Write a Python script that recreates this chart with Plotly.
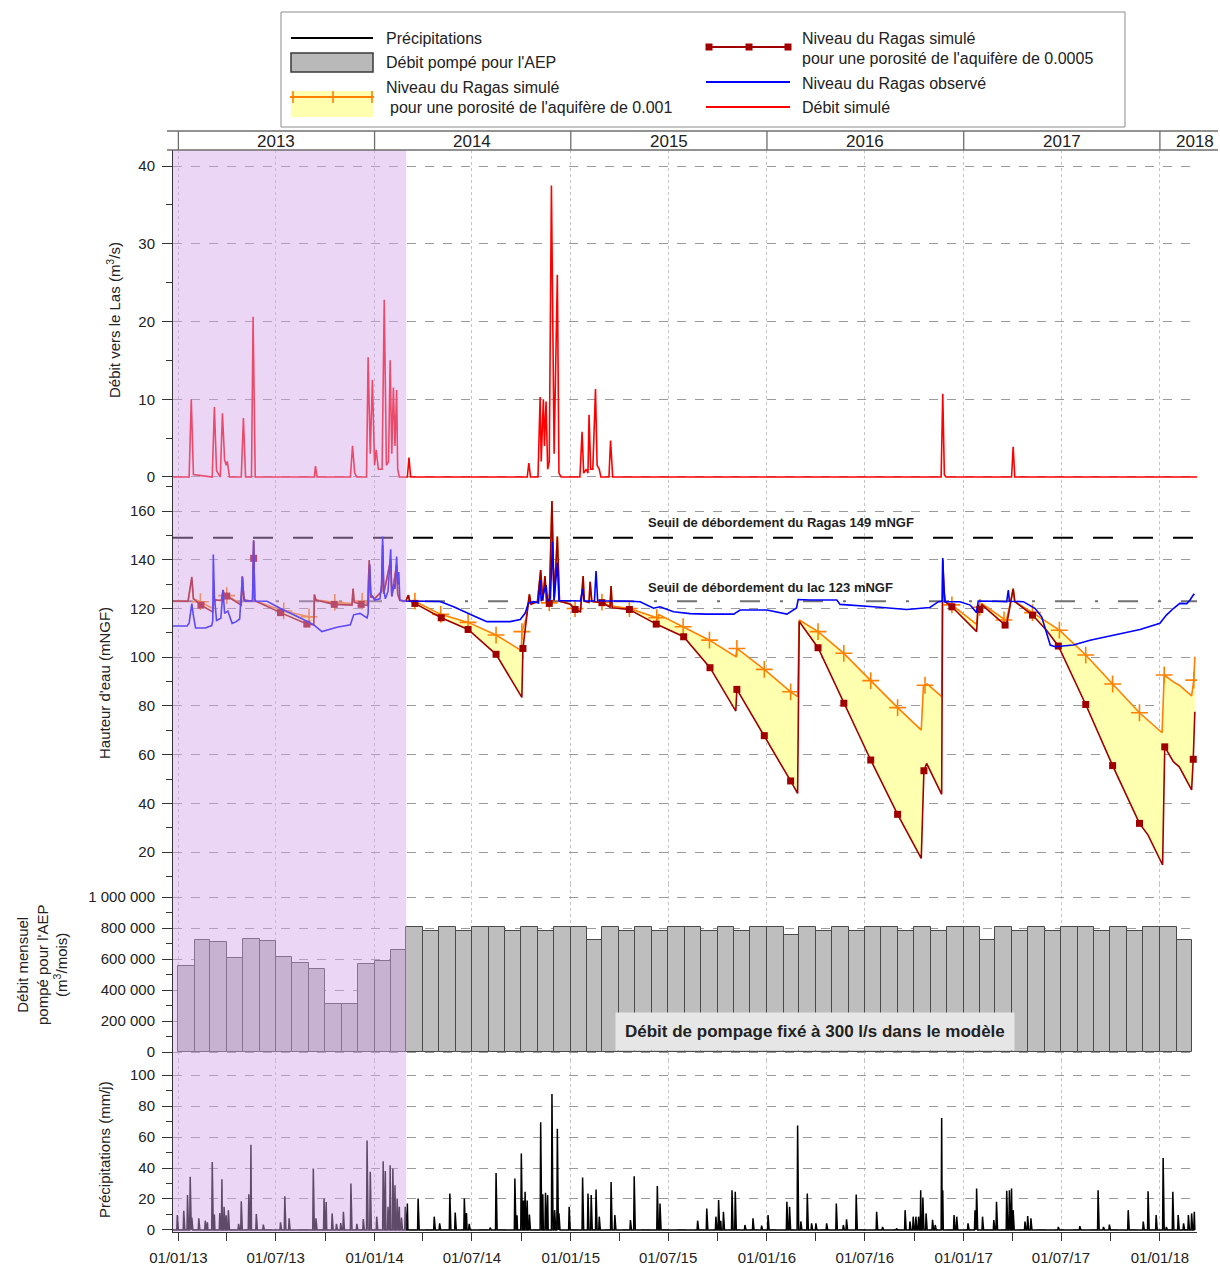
import pandas as pd
import plotly.graph_objects as go
from plotly.subplots import make_subplots

FONT = "Liberation Sans, Arial, sans-serif"
TXT = "#222222"

# ---------------- DATA ----------------
x_range = ["2012-12-22", "2018-03-11"]
year_labels = ["2013", "2014", "2015", "2016", "2017", "2018"]
year_starts = ["2013-01-01", "2014-01-01", "2015-01-01", "2016-01-01", "2017-01-01", "2018-01-01"]
year_label_pos = ["2013-07-02", "2014-07-02", "2015-07-02", "2016-07-01", "2017-07-02", "2018-03-07"]
shade_period = ["2012-12-22", "2014-03-01"]
seuil_ragas = 149
seuil_lac = 123

debit_dates = ["2012-12-22", "2013-01-21", "2013-01-25", "2013-01-29", "2013-03-05", "2013-03-09", "2013-03-13",
               "2013-03-20", "2013-03-24", "2013-03-28", "2013-03-31", "2013-04-02", "2013-04-06", "2013-04-28",
               "2013-05-02", "2013-05-06", "2013-05-17", "2013-05-20", "2013-05-24", "2013-09-11", "2013-09-13",
               "2013-09-16", "2013-11-17", "2013-11-21", "2013-11-25", "2013-11-29", "2013-12-17", "2013-12-20",
               "2013-12-24", "2013-12-28", "2014-01-01", "2014-01-04", "2014-01-08", "2014-01-15", "2014-01-19",
               "2014-01-23", "2014-01-27", "2014-01-30", "2014-02-02", "2014-02-05", "2014-02-08", "2014-02-11",
               "2014-02-13", "2014-02-16", "2014-03-03", "2014-03-06", "2014-03-09", "2014-10-12", "2014-10-15",
               "2014-10-18", "2014-11-01", "2014-11-05", "2014-11-07", "2014-11-11", "2014-11-13", "2014-11-16",
               "2014-11-19", "2014-11-22", "2014-11-26", "2014-12-01", "2014-12-07", "2014-12-10", "2014-12-14",
               "2015-01-18", "2015-01-22", "2015-01-25", "2015-01-30", "2015-02-02", "2015-02-04", "2015-02-07",
               "2015-02-11", "2015-02-16", "2015-02-19", "2015-02-23", "2015-02-26", "2015-03-13", "2015-03-16",
               "2015-03-20", "2016-11-20", "2016-11-23", "2016-11-26", "2016-11-29", "2017-03-31", "2017-04-03",
               "2017-04-06", "2018-03-11"]
debit_m3s = [0, 0, 10.0, 0.3, 0, 9.0, 0.8,
             0, 8.2, 2.2, 1.5, 2.0, 0, 0,
             7.6, 0, 0, 20.6, 0, 0, 1.4,
             0, 0, 4.0, 0.5, 0, 0, 15.4,
             3.0, 12.5, 1.5, 3.5, 1.0, 1.0, 22.8,
             1.5, 2.0, 15.0, 3.0, 11.5, 4.0, 11.2,
             1.0, 0, 0, 2.5, 0, 0, 1.8,
             0, 0, 10.3, 2.0, 10.0, 4.0, 9.7,
             1.0, 2.0, 37.5, 3.0, 26.0, 0.5, 0,
             0, 5.8, 0.5, 1.0, 0.5, 8.0, 1.0,
             1.0, 11.3, 1.5, 1.0, 0, 0, 4.7,
             0, 0, 10.7, 0.3, 0, 0, 3.9,
             0, 0]

obs_dates = ["2012-12-22", "2013-01-17", "2013-01-21", "2013-01-26", "2013-01-29", "2013-02-02", "2013-02-20",
             "2013-03-04", "2013-03-06", "2013-03-07", "2013-03-09", "2013-03-13", "2013-03-21", "2013-03-25",
             "2013-03-28", "2013-04-03", "2013-04-11", "2013-04-18", "2013-04-25", "2013-04-30", "2013-05-03",
             "2013-05-06", "2013-05-19", "2013-05-21", "2013-05-23", "2013-05-24", "2013-06-15", "2013-07-10",
             "2013-08-16", "2013-09-10", "2013-09-25", "2013-10-11", "2013-10-23", "2013-11-17", "2013-11-23",
             "2013-12-05", "2013-12-18", "2013-12-20", "2013-12-23", "2013-12-25", "2013-12-28", "2014-01-01",
             "2014-01-11", "2014-01-14", "2014-01-16", "2014-01-18", "2014-01-21", "2014-01-26", "2014-01-31",
             "2014-02-02", "2014-02-06", "2014-02-08", "2014-02-11", "2014-02-13", "2014-02-15", "2014-02-17",
             "2014-02-26", "2014-03-27", "2014-05-03", "2014-05-28", "2014-06-22", "2014-07-09", "2014-07-29",
             "2014-09-10", "2014-09-29", "2014-10-08", "2014-10-14", "2014-10-24", "2014-11-02", "2014-11-05",
             "2014-11-07", "2014-11-16", "2014-11-19", "2014-11-24", "2014-11-28", "2014-12-01", "2014-12-07",
             "2014-12-10", "2015-01-19", "2015-01-23", "2015-01-26", "2015-02-14", "2015-02-17", "2015-02-20",
             "2015-04-21", "2015-05-10", "2015-06-04", "2015-06-16", "2015-07-11", "2015-08-11", "2015-09-11",
             "2015-10-31", "2015-11-12", "2016-01-01", "2016-02-07", "2016-02-25", "2016-02-28", "2016-03-21",
             "2016-05-10", "2016-05-16", "2016-07-17", "2016-09-17", "2016-10-30", "2016-11-15", "2016-11-22",
             "2016-11-23", "2016-11-25", "2016-11-27", "2016-12-25", "2017-01-13", "2017-01-25", "2017-01-28",
             "2017-03-03", "2017-03-22", "2017-03-25", "2017-03-27", "2017-04-22", "2017-05-14", "2017-05-26",
             "2017-06-04", "2017-06-11", "2017-06-20", "2017-07-24", "2017-08-24", "2017-10-06", "2017-11-25",
             "2018-01-01", "2018-01-13", "2018-01-26", "2018-02-07", "2018-02-20", "2018-02-26", "2018-03-04",
             "2018-03-06"]
obs_mngf = [112.8, 112.8, 114, 122, 117, 112, 112,
            113, 115, 142.2, 125, 115.1, 116, 127.6,
            118, 119, 113.9, 114.5, 115.7, 133, 124,
            123, 123.2, 147.7, 124, 123.1, 123, 120,
            116.1, 113.3, 110.5, 111.5, 112.3, 113.3, 117.4,
            118, 116.1, 118, 138, 126, 125, 123.5,
            124, 130, 149.5, 128, 124, 127, 144.3,
            125, 130, 128, 141.3, 130, 135, 123.5,
            123.1, 123.1, 122.9, 120.7, 118, 116.5, 114.6,
            114.6, 115.5, 118, 122.2, 122.8, 122.3, 131.7,
            123, 129.6, 123, 124, 147.4, 123.5, 138.8,
            123.3, 123.1, 128, 123.1, 123.1, 135.4, 123.2,
            123, 122.8, 120.1, 120.7, 118.7, 117.9, 117.7,
            117.7, 119.4, 119.4, 117.7, 120.2, 123.7, 123.5,
            123.5, 121.7, 120.7, 119.6, 120.4, 122.8, 123,
            140.7, 130, 122.8, 122.8, 121.4, 118.3, 123.1,
            123, 122.8, 127.6, 123, 122.8, 120, 116.6,
            110.5, 105, 104.3, 105, 107, 109.1, 111.4,
            113.9, 117.3, 120, 122.1, 122, 123.5, 125.5,
            126]

sim5_dates = ["2012-12-22", "2013-01-19", "2013-01-26", "2013-01-29", "2013-02-12", "2013-03-05", "2013-03-06",
              "2013-03-08", "2013-03-22", "2013-03-25", "2013-03-28", "2013-04-01", "2013-04-28", "2013-04-30",
              "2013-05-03", "2013-05-19", "2013-05-21", "2013-05-23", "2013-05-24", "2013-07-10", "2013-08-28",
              "2013-09-10", "2013-09-11", "2013-09-14", "2013-10-18", "2013-11-20", "2013-11-22", "2013-11-24",
              "2013-12-07", "2013-12-19", "2013-12-22", "2013-12-25", "2013-12-28", "2014-01-01", "2014-01-14",
              "2014-01-16", "2014-01-18", "2014-01-31", "2014-02-02", "2014-02-11", "2014-02-13", "2014-02-17",
              "2014-02-28", "2014-03-05", "2014-03-07", "2014-03-17", "2014-05-05", "2014-06-24", "2014-08-15",
              "2014-10-02", "2014-10-04", "2014-10-10", "2014-10-14", "2014-10-16", "2014-10-19", "2014-10-31",
              "2014-11-06", "2014-11-10", "2014-11-14", "2014-11-17", "2014-11-22", "2014-11-27", "2014-12-01",
              "2014-12-07", "2014-12-11", "2014-12-31", "2015-01-09", "2015-01-19", "2015-01-24", "2015-01-26",
              "2015-02-04", "2015-02-06", "2015-02-09", "2015-02-28", "2015-03-15", "2015-03-17", "2015-03-19",
              "2015-04-20", "2015-06-09", "2015-07-30", "2015-09-17", "2015-11-04", "2015-11-06", "2015-12-27",
              "2016-02-14", "2016-02-27", "2016-03-01", "2016-04-05", "2016-05-23", "2016-07-12", "2016-08-31",
              "2016-10-14", "2016-10-19", "2016-10-24", "2016-11-21", "2016-11-23", "2016-11-25", "2016-11-27",
              "2016-12-10", "2017-01-25", "2017-01-28", "2017-01-31", "2017-02-04", "2017-03-19", "2017-03-22",
              "2017-03-28", "2017-04-03", "2017-04-06", "2017-05-09", "2017-06-04", "2017-06-26", "2017-08-16",
              "2017-10-05", "2017-11-24", "2017-12-10", "2018-01-06", "2018-01-10", "2018-01-26", "2018-02-06",
              "2018-03-01", "2018-03-04", "2018-03-07"]
sim5_mngf = [123.1, 123, 133, 124, 121.4, 119, 118.6,
             123.5, 123.3, 127.6, 125, 125.1, 121.4, 133.3,
             123.5, 123, 148.1, 124, 123.1, 118.3, 113.6,
             113.3, 125.8, 123.5, 121.7, 121.4, 128.2, 122.5,
             121.7, 121.2, 139.9, 124.5, 125, 124, 127,
             146, 126, 140, 125, 138, 126, 123.3,
             123.1, 125.5, 123.2, 122.1, 116.2, 111.4, 101.2,
             83.5, 103.6, 116, 123.5, 125.8, 121.8, 122.8,
             135.8, 123.2, 133.3, 122.8, 122.1, 164.1, 123.2,
             149.5, 123, 121.8, 119.6, 118.6, 133.3, 123,
             122.5, 131, 123, 122.4, 120.5, 129.2, 120.3,
             119.6, 113.6, 108.4, 95.7, 77.9, 86.8, 67.8,
             49.2, 44.1, 114.7, 103.9, 81.1, 57.8, 35.5,
             17.4, 53.4, 56.4, 43.7, 140, 128, 122.8,
             120.7, 110.5, 121.4, 119.6, 121.5, 113.2, 113.5,
             121, 128.2, 122.8, 117.3, 111.1, 104.6, 80.6,
             55.5, 31.8, 27, 14.7, 63.2, 57.1, 55,
             45.5, 58.1, 77.6]
sim5_marker_dates = ["2013-02-12", "2013-04-01", "2013-05-21", "2013-07-10", "2013-08-28", "2013-10-18",
                     "2013-12-07", "2014-03-17", "2014-05-05", "2014-06-24", "2014-08-15", "2014-10-04",
                     "2014-11-22", "2015-01-09", "2015-02-28", "2015-04-20", "2015-06-09", "2015-07-30",
                     "2015-09-17", "2015-11-06", "2015-12-27", "2016-02-14", "2016-04-05", "2016-05-23",
                     "2016-07-12", "2016-08-31", "2016-10-19", "2016-12-10", "2017-01-31", "2017-03-19",
                     "2017-05-09", "2017-06-26", "2017-08-16", "2017-10-05", "2017-11-24", "2018-01-10",
                     "2018-03-04"]
sim5_marker_mngf = [121.4, 125.1, 140.6, 118.3, 113.6, 121.7,
                    121.7, 122.1, 116.2, 111.4, 101.2, 103.6,
                    122.1, 119.6, 122.4, 119.6, 113.6, 108.4,
                    95.7, 86.8, 67.8, 49.2, 103.9, 81.1,
                    57.8, 35.5, 53.4, 120.7, 119.6, 113.2,
                    117.3, 104.6, 80.6, 55.5, 31.8, 63.2,
                    58.1]

sim1_dates = ["2012-12-22", "2013-01-19", "2013-01-26", "2013-01-29", "2013-02-11", "2013-03-06", "2013-03-08",
              "2013-03-22", "2013-03-25", "2013-03-28", "2013-04-01", "2013-04-28", "2013-04-30", "2013-05-03",
              "2013-05-19", "2013-05-21", "2013-05-23", "2013-05-24", "2013-07-16", "2013-09-01", "2013-09-10",
              "2013-09-11", "2013-09-14", "2013-10-19", "2013-11-20", "2013-11-22", "2013-11-24", "2013-12-09",
              "2013-12-19", "2013-12-22", "2013-12-25", "2013-12-28", "2014-01-01", "2014-01-14", "2014-01-16",
              "2014-01-18", "2014-01-31", "2014-02-02", "2014-02-11", "2014-02-13", "2014-02-17", "2014-02-28",
              "2014-03-05", "2014-03-07", "2014-03-17", "2014-05-04", "2014-06-24", "2014-08-15", "2014-10-01",
              "2014-10-02", "2014-10-10", "2014-10-14", "2014-10-16", "2014-10-19", "2014-10-31", "2014-11-06",
              "2014-11-10", "2014-11-14", "2014-11-17", "2014-11-22", "2014-11-27", "2014-12-01", "2014-12-07",
              "2014-12-11", "2014-12-31", "2015-01-09", "2015-01-19", "2015-01-24", "2015-01-26", "2015-02-04",
              "2015-02-06", "2015-02-09", "2015-02-28", "2015-03-15", "2015-03-17", "2015-03-19", "2015-04-20",
              "2015-06-10", "2015-06-12", "2015-06-14", "2015-07-29", "2015-09-16", "2015-11-04", "2015-11-06",
              "2015-12-27", "2016-02-14", "2016-02-27", "2016-03-01", "2016-04-05", "2016-05-23", "2016-07-12",
              "2016-08-31", "2016-10-14", "2016-10-18", "2016-10-21", "2016-10-25", "2016-11-21", "2016-11-23",
              "2016-11-25", "2016-11-27", "2016-12-10", "2017-01-25", "2017-01-28", "2017-01-31", "2017-02-04",
              "2017-03-17", "2017-03-21", "2017-03-28", "2017-04-03", "2017-04-06", "2017-05-09", "2017-06-28",
              "2017-08-16", "2017-10-05", "2017-11-24", "2018-01-05", "2018-01-09", "2018-01-26", "2018-02-06",
              "2018-03-01", "2018-03-05", "2018-03-07"]
sim1_mngf = [123.1, 123, 132, 124, 122.8, 120, 123.5,
             123.3, 127, 125, 125.3, 122, 132.5, 123.5,
             123, 147, 124, 123.1, 119, 116.6, 116.5,
             125.5, 123.5, 122.5, 122, 128, 123, 123,
             122, 139, 124.5, 125, 124, 127, 146,
             126, 140, 125, 138, 126, 123.3, 123.1,
             125.5, 123.2, 123, 117.6, 114.3, 109.1, 102.7,
             110.5, 116, 123.5, 125.8, 121.8, 122.8, 135.8,
             123.2, 133.3, 122.8, 122.3, 164.1, 123.2, 149.5,
             123, 122, 120, 119, 133.3, 123, 122.7,
             131, 123, 122.6, 121, 129.2, 121, 120,
             116.2, 115.5, 117.5, 112.5, 107, 100.2, 103.6,
             95, 85.8, 83.8, 115.3, 110.5, 101.6, 90.4,
             79.3, 70.1, 87.9, 88.5, 89, 83.8, 139,
             128, 122.8, 121.5, 113.5, 121.8, 120.5, 122,
             115.3, 115, 121.5, 128, 122.8, 118.3, 111.1,
             100.9, 89, 77.2, 69, 92.7, 89.9, 88.5,
             84.1, 90.6, 100.2]
sim1_marker_dates = ["2013-02-11", "2013-04-01", "2013-07-16", "2013-09-01", "2013-10-19", "2013-12-09",
                     "2014-03-17", "2014-05-04", "2014-06-24", "2014-08-15", "2014-10-02", "2014-11-22",
                     "2015-01-09", "2015-02-28", "2015-04-20", "2015-06-10", "2015-07-29", "2015-09-16",
                     "2015-11-06", "2015-12-27", "2016-02-14", "2016-04-05", "2016-05-23", "2016-07-12",
                     "2016-08-31", "2016-10-21", "2016-12-10", "2017-01-31", "2017-03-17", "2017-05-09",
                     "2017-06-28", "2017-08-16", "2017-10-05", "2017-11-24", "2018-01-09", "2018-03-05"]

aep_months = ["2013-01", "2013-02", "2013-03", "2013-04", "2013-05", "2013-06", "2013-07", "2013-08",
              "2013-09", "2013-10", "2013-11", "2013-12",
              "2014-01", "2014-02", "2014-03", "2014-04", "2014-05", "2014-06", "2014-07", "2014-08",
              "2014-09", "2014-10", "2014-11", "2014-12",
              "2015-01", "2015-02", "2015-03", "2015-04", "2015-05", "2015-06", "2015-07", "2015-08",
              "2015-09", "2015-10", "2015-11", "2015-12",
              "2016-01", "2016-02", "2016-03", "2016-04", "2016-05", "2016-06", "2016-07", "2016-08",
              "2016-09", "2016-10", "2016-11", "2016-12",
              "2017-01", "2017-02", "2017-03", "2017-04", "2017-05", "2017-06", "2017-07", "2017-08",
              "2017-09", "2017-10", "2017-11", "2017-12",
              "2018-01", "2018-02"]
aep_m3 = [558000, 721000, 708000, 609000, 727000, 717000, 616000, 575000, 534000, 311000, 311000, 569000,
          590000, 657000, 803520, 777600, 803520, 777600, 803520, 803520, 777600, 803520, 777600, 803520,
          803520, 725760, 803520, 777600, 803520, 777600, 803520, 803520, 777600, 803520, 777600, 803520,
          803520, 751680, 803520, 777600, 803520, 777600, 803520, 803520, 777600, 803520, 777600, 803520,
          803520, 725760, 803520, 777600, 803520, 777600, 803520, 803520, 777600, 803520, 777600, 803520,
          803520, 725760]
aep_ticks = [0, 200000, 400000, 600000, 800000, 1000000]
aep_ticktext = ["0", "200 000", "400 000", "600 000", "800 000", "1 000 000"]

precip_period = ["2012-12-22", "2018-03-07"]
rain_dates = ["2012-12-30", "2013-01-11", "2013-01-18", "2013-01-23", "2013-01-26", "2013-02-08", "2013-02-20",
              "2013-02-24", "2013-03-05", "2013-03-09", "2013-03-19", "2013-03-23", "2013-03-27", "2013-03-31",
              "2013-04-04", "2013-04-23", "2013-04-28", "2013-05-12", "2013-05-16", "2013-05-26", "2013-06-08",
              "2013-07-10", "2013-07-18", "2013-07-26", "2013-09-09", "2013-09-14", "2013-09-29", "2013-10-03",
              "2013-10-14", "2013-10-22", "2013-10-30", "2013-11-04", "2013-11-18", "2013-11-29", "2013-12-11",
              "2013-12-18", "2013-12-24", "2014-01-05", "2014-01-17", "2014-01-21", "2014-01-26", "2014-01-30",
              "2014-02-04", "2014-02-08", "2014-02-12", "2014-02-16", "2014-02-20", "2014-02-27", "2014-03-03",
              "2014-03-23", "2014-04-22", "2014-05-02", "2014-05-21", "2014-05-31", "2014-06-17", "2014-06-21",
              "2014-06-26", "2014-08-04", "2014-08-15", "2014-09-19", "2014-09-23", "2014-10-01", "2014-10-05",
              "2014-10-08", "2014-10-12", "2014-10-16", "2014-11-06", "2014-11-10", "2014-11-15", "2014-11-19",
              "2014-11-27", "2014-12-02", "2014-12-07", "2014-12-10", "2014-12-29", "2015-01-23", "2015-02-02",
              "2015-02-08", "2015-02-17", "2015-02-23", "2015-03-17", "2015-03-24", "2015-04-22", "2015-04-29",
              "2015-06-11", "2015-06-16", "2015-08-25", "2015-09-11", "2015-09-28", "2015-10-03", "2015-10-07",
              "2015-10-12", "2015-10-28", "2015-11-03", "2015-11-21", "2015-12-06", "2015-12-22", "2016-01-03",
              "2016-02-07", "2016-02-12", "2016-02-27", "2016-03-04", "2016-03-16", "2016-03-24", "2016-04-01",
              "2016-04-21", "2016-05-09", "2016-05-22", "2016-05-28", "2016-06-15", "2016-07-23", "2016-08-03",
              "2016-08-29", "2016-09-14", "2016-09-23", "2016-09-29", "2016-10-04", "2016-10-09", "2016-10-13",
              "2016-10-17", "2016-10-23", "2016-11-04", "2016-11-09", "2016-11-21", "2016-11-23", "2016-12-14",
              "2016-12-19", "2017-01-09", "2017-01-22", "2017-01-25", "2017-02-05", "2017-02-26", "2017-03-03",
              "2017-03-22", "2017-03-27", "2017-03-31", "2017-04-03", "2017-04-25", "2017-04-30", "2017-05-06",
              "2017-06-26", "2017-08-05", "2017-09-08", "2017-09-18", "2017-09-29", "2017-11-03", "2017-12-01",
              "2017-12-10", "2017-12-25", "2018-01-07", "2018-01-13", "2018-01-25", "2018-02-04", "2018-02-14",
              "2018-02-23", "2018-03-01", "2018-03-06"]
rain_mm = [9.6, 12.4, 22.5, 34.3, 8, 7.5, 6,
           5, 43.9, 10, 11, 32.8, 15, 9.5,
           12.8, 4, 18.6, 23, 55, 10.3, 3.5,
           5, 21.8, 7.5, 39.6, 7.5, 20.3, 18,
           10.7, 4, 4.5, 11.8, 30, 4, 7,
           57.8, 37.5, 8.6, 44.3, 38, 15, 41.8,
           39.6, 28.9, 20, 15, 8, 15, 17,
           20.3, 8.6, 4.3, 23.6, 11.3, 20.3, 11,
           4, 1.5, 36.8, 33.2, 9.5, 49.3, 19,
           24.6, 19, 10, 69.6, 23, 24, 22.5,
           87.8, 12.8, 65.3, 10.7, 15, 33.8, 23.6,
           22.5, 26.1, 8.6, 31, 9.6, 6.4, 34.7,
           28.3, 17, 6, 13.9, 8.6, 19.3, 6,
           11.8, 25.7, 24.6, 3.2, 7.5, 2.8, 9.6,
           18.2, 15, 67.5, 5.5, 23.6, 4.3, 4.3,
           4.3, 17.1, 3.2, 6.9, 22.9, 11.8, 2,
           1, 12.8, 5.5, 8.6, 8.6, 8.6, 25.7,
           21, 10.7, 6.5, 3.2, 72.2, 25.7, 9.6,
           8.6, 4.3, 12.8, 26.8, 8.6, 6.4, 18.2,
           25.3, 25.7, 26.8, 12.8, 5.4, 9, 7.5,
           2, 2.5, 25.7, 2, 3.5, 12.8, 5.4,
           25, 9.6, 46.5, 2, 24.6, 9.6, 4.3,
           9.6, 10.7, 11.8]

# ---------------- FIGURE ----------------
RED = "#FF0000"
BLUE = "#0000FF"
DARKRED = "#A00000"
ORANGE = "#FF8000"
YELLOW = "#FFFFB0"

fig = make_subplots(rows=4, cols=1, shared_xaxes=True, vertical_spacing=0)

fig.add_trace(go.Scatter(x=debit_dates, y=debit_m3s, mode="lines", line=dict(color=RED, width=1.6),
                         showlegend=False), row=1, col=1)

fig.add_trace(go.Scatter(x=sim5_dates, y=sim5_mngf, mode="lines", line=dict(width=0, color=DARKRED),
                         showlegend=False, hoverinfo="skip"), row=2, col=1)
fig.add_trace(go.Scatter(x=sim1_dates, y=sim1_mngf, mode="lines", line=dict(width=0, color=ORANGE),
                         fill="tonexty", fillcolor=YELLOW, showlegend=False, hoverinfo="skip"), row=2, col=1)
sim1_lookup = dict(zip(sim1_dates, sim1_mngf))
fig.add_trace(go.Scatter(x=sim1_dates, y=sim1_mngf, mode="lines", line=dict(color=ORANGE, width=1.6),
                         showlegend=False), row=2, col=1)
fig.add_trace(go.Scatter(x=sim1_marker_dates, y=[sim1_lookup[d] for d in sim1_marker_dates], mode="markers",
                         marker=dict(symbol="cross-thin", size=12, line=dict(color=ORANGE, width=1.6)),
                         showlegend=False), row=2, col=1)
fig.add_trace(go.Scatter(x=sim5_dates, y=sim5_mngf, mode="lines", line=dict(color=DARKRED, width=1.6),
                         showlegend=False), row=2, col=1)
fig.add_trace(go.Scatter(x=sim5_marker_dates, y=sim5_marker_mngf, mode="markers",
                         marker=dict(symbol="square", size=7, color=DARKRED), showlegend=False), row=2, col=1)
fig.add_trace(go.Scatter(x=obs_dates, y=obs_mngf, mode="lines", line=dict(color=BLUE, width=1.6),
                         showlegend=False), row=2, col=1)

m_start = pd.to_datetime(aep_months, format="%Y-%m")
m_next = m_start + pd.offsets.MonthBegin(1)
widths = [(b - a).total_seconds() * 1000 for a, b in zip(m_start, m_next)]
fig.add_trace(go.Bar(x=m_start, y=aep_m3, width=widths, offset=0,
                     marker=dict(color="#BEBEBE", line=dict(color="#4A4A4A", width=1)),
                     showlegend=False), row=3, col=1)

days = pd.date_range(precip_period[0], precip_period[1], freq="D")
rain = pd.Series(0.0, index=days)
rain.loc[pd.to_datetime(rain_dates)] = rain_mm
fig.add_trace(go.Scatter(x=rain.index, y=rain.values, mode="lines", line=dict(color="#000000", width=1.5),
                         showlegend=False), row=4, col=1)

# ---------------- AXES ----------------
W, H = 1220, 1268
ML, MR, MT, MB = 173, 23, 150, 36
PW, PH = W - ML - MR, H - MT - MB


def px(x):
    return (x - ML) / PW


def py(y):
    return (H - MB - y) / PH


doms = {1: [py(485), 1.0], 2: [py(884), py(485)], 3: [py(1060), py(884)], 4: [0.0, py(1060)]}

tickfont = dict(family=FONT, size=15, color=TXT)
ycommon = dict(showline=True, linecolor="#333333", linewidth=1, ticks="outside", ticklen=10, tickwidth=1,
               tickcolor="#333333", tickfont=tickfont, showgrid=True, gridcolor="#9A9A9A", griddash="dash",
               gridwidth=1, zeroline=False, ticklabelstandoff=4, automargin=False)

fig.update_yaxes(row=1, col=1, domain=doms[1], range=[-1.03, 42.06], tickmode="linear", tick0=0, dtick=10,
                 minor=dict(dtick=5, tick0=0, ticks="outside", ticklen=6, tickcolor="#333333", showgrid=False),
                 **ycommon)
fig.update_yaxes(row=2, col=1, domain=doms[2], range=[6.9, 170.7], tickmode="linear", tick0=0, dtick=20,
                 minor=dict(dtick=10, tick0=0, ticks="outside", ticklen=6, tickcolor="#333333", showgrid=False),
                 **ycommon)
fig.update_yaxes(row=3, col=1, domain=doms[3], range=[-51600, 1083900], tickmode="array", tickvals=aep_ticks,
                 ticktext=aep_ticktext,
                 minor=dict(dtick=100000, tick0=0, ticks="outside", ticklen=6, tickcolor="#333333",
                            showgrid=False), **ycommon)
fig.update_yaxes(row=4, col=1, domain=doms[4], range=[-1.3, 109.7], tickmode="linear", tick0=0, dtick=20,
                 minor=dict(dtick=10, tick0=0, ticks="outside", ticklen=6, tickcolor="#333333", showgrid=False),
                 **ycommon)

xcommon = dict(range=x_range, type="date", tick0="2013-01-01", dtick="M6", showgrid=True, gridcolor="#C4C4C4",
               griddash="dot", gridwidth=1, zeroline=False, automargin=False)
for r in (1, 2, 3):
    fig.update_xaxes(row=r, col=1, showticklabels=False, ticks="", showline=False, **xcommon)
fig.update_xaxes(row=4, col=1, showticklabels=True, ticks="outside", ticklen=8, tickcolor="#333333",
                 tickformat="%d/%m/%y", tickfont=tickfont, showline=True, linecolor="#333333", linewidth=1,
                 ticklabelstandoff=4,
                 minor=dict(dtick="M3", tick0="2013-01-01", ticks="outside", ticklen=8, tickcolor="#333333",
                            showgrid=False), **xcommon)

# ---------------- SHAPES / ANNOTATIONS ----------------
shapes = []
annotations = []

shapes.append(dict(type="line", xref="x2", yref="y2", x0=x_range[0], x1=x_range[1], y0=seuil_ragas,
                   y1=seuil_ragas, line=dict(color="#000000", width=2, dash="20px,20px"), layer="between"))
shapes.append(dict(type="line", xref="x2", yref="y2", x0=x_range[0], x1=x_range[1], y0=seuil_lac,
                   y1=seuil_lac, line=dict(color="#707070", width=2, dash="20px,20px,3px,20px"), layer="between"))
annotations.append(dict(xref="paper", yref="paper", x=px(646), y=py(522), xanchor="left", yanchor="middle",
                        text="<b>Seuil de débordement du Ragas %d mNGF</b>" % seuil_ragas, showarrow=False,
                        font=dict(family=FONT, size=13, color=TXT)))
annotations.append(dict(xref="paper", yref="paper", x=px(646), y=py(587), xanchor="left", yanchor="middle",
                        text="<b>Seuil de débordement du lac %d mNGF</b>" % seuil_lac, showarrow=False,
                        font=dict(family=FONT, size=13, color=TXT)))

annotations.append(dict(xref="paper", yref="paper", x=px(815), y=py(1031), xanchor="center", yanchor="middle",
                        text="<b>Débit de pompage fixé à 300 l/s dans le modèle</b>", showarrow=False,
                        bgcolor="#E6E6E6", borderpad=9, font=dict(family=FONT, size=17, color=TXT)))

shapes.append(dict(type="rect", xref="x", yref="paper", x0=shade_period[0], x1=shade_period[1], y0=0, y1=1,
                   fillcolor="rgb(210,165,235)", opacity=0.45, line=dict(width=0), layer="above"))

band_col = "#6E6E6E"
shapes.append(dict(type="line", xref="paper", yref="paper", x0=px(167), x1=px(1218), y0=py(131), y1=py(131),
                   line=dict(color=band_col, width=1.3)))
shapes.append(dict(type="line", xref="paper", yref="paper", x0=px(167), x1=px(1218), y0=1.0, y1=1.0,
                   line=dict(color=band_col, width=1.3)))
for ys in year_starts:
    shapes.append(dict(type="line", xref="x", yref="paper", x0=ys, x1=ys, y0=1.0, y1=py(131),
                       line=dict(color=band_col, width=1.3)))
for lab, pos in zip(year_labels, year_label_pos):
    annotations.append(dict(xref="x", yref="paper", x=pos, y=py(141), xanchor="center", yanchor="middle",
                            text=lab, showarrow=False, font=dict(family=FONT, size=17, color=TXT)))

ttl = dict(family=FONT, size=15, color=TXT)
annotations.append(dict(xref="paper", yref="paper", x=px(113), y=py(320), textangle=-90, showarrow=False,
                        xanchor="center", yanchor="middle", text="Débit vers le Las (m<sup>3</sup>/s)", font=ttl))
annotations.append(dict(xref="paper", yref="paper", x=px(104), y=py(683), textangle=-90, showarrow=False,
                        xanchor="center", yanchor="middle", text="Hauteur d'eau (mNGF)", font=ttl))
annotations.append(dict(xref="paper", yref="paper", x=px(42), y=py(965), textangle=-90, showarrow=False,
                        xanchor="center", yanchor="middle",
                        text="Débit mensuel<br>pompé pour l'AEP<br>(m<sup>3</sup>/mois)", font=ttl))
annotations.append(dict(xref="paper", yref="paper", x=px(104), y=py(1150), textangle=-90, showarrow=False,
                        xanchor="center", yanchor="middle", text="Précipitations (mm/j)", font=ttl))

shapes.append(dict(type="rect", xref="paper", yref="paper", x0=px(281), x1=px(1125), y0=py(127), y1=py(12),
                   fillcolor="#FFFFFF", line=dict(color="#8C8C8C", width=1)))
shapes.append(dict(type="line", xref="paper", yref="paper", x0=px(291), x1=px(373), y0=py(38), y1=py(38),
                   line=dict(color="#000000", width=2)))
shapes.append(dict(type="rect", xref="paper", yref="paper", x0=px(291), x1=px(373), y0=py(72), y1=py(53),
                   fillcolor="#B9B9B9", line=dict(color="#3A3A3A", width=1.5)))
shapes.append(dict(type="rect", xref="paper", yref="paper", x0=px(291), x1=px(373), y0=py(117), y1=py(91),
                   fillcolor=YELLOW, line=dict(width=0)))
shapes.append(dict(type="line", xref="paper", yref="paper", x0=px(290), x1=px(374), y0=py(97), y1=py(97),
                   line=dict(color=ORANGE, width=2)))
for cx in (293, 333, 372):
    shapes.append(dict(type="line", xref="paper", yref="paper", x0=px(cx), x1=px(cx), y0=py(103), y1=py(91),
                       line=dict(color=ORANGE, width=1.6)))
shapes.append(dict(type="line", xref="paper", yref="paper", x0=px(706), x1=px(790), y0=py(47), y1=py(47),
                   line=dict(color=DARKRED, width=2)))
for cx in (709, 749, 788):
    shapes.append(dict(type="rect", xref="paper", yref="paper", x0=px(cx - 3.5), x1=px(cx + 3.5),
                       y0=py(50.5), y1=py(43.5), fillcolor=DARKRED, line=dict(width=0)))
shapes.append(dict(type="line", xref="paper", yref="paper", x0=px(706), x1=px(790), y0=py(82), y1=py(82),
                   line=dict(color=BLUE, width=2)))
shapes.append(dict(type="line", xref="paper", yref="paper", x0=px(706), x1=px(790), y0=py(107), y1=py(107),
                   line=dict(color=RED, width=2)))

leg_font = dict(family=FONT, size=16, color=TXT)
for txt, lx, ly in [("Précipitations", 384, 38), ("Débit pompé pour l'AEP", 384, 62),
                    ("Niveau du Ragas simulé", 384, 88), ("pour une porosité de l'aquifère de 0.001", 388, 108),
                    ("Niveau du Ragas simulé", 800, 38), ("pour une porosité de l'aquifère de 0.0005", 800, 58),
                    ("Niveau du Ragas observé", 800, 83), ("Débit simulé", 800, 107)]:
    annotations.append(dict(xref="paper", yref="paper", x=px(lx), y=py(ly), xanchor="left", yanchor="middle",
                            text=txt, showarrow=False, font=leg_font))

fig.update_layout(
    width=W, height=H,
    margin=dict(l=ML, r=MR, t=MT, b=MB, autoexpand=False),
    paper_bgcolor="#FFFFFF", plot_bgcolor="#FFFFFF",
    font=dict(family=FONT, size=15, color=TXT),
    showlegend=False,
    bargap=0,
    shapes=shapes,
    annotations=annotations,
)

PAGE_JS = (
    "var d=document;"
    "[d.documentElement,d.body].forEach(function(e){e.style.margin='0';e.style.padding='0';e.style.overflow='hidden';});"
)

fig.write_html("out.html", config={"displayModeBar": False}, post_script=PAGE_JS)
